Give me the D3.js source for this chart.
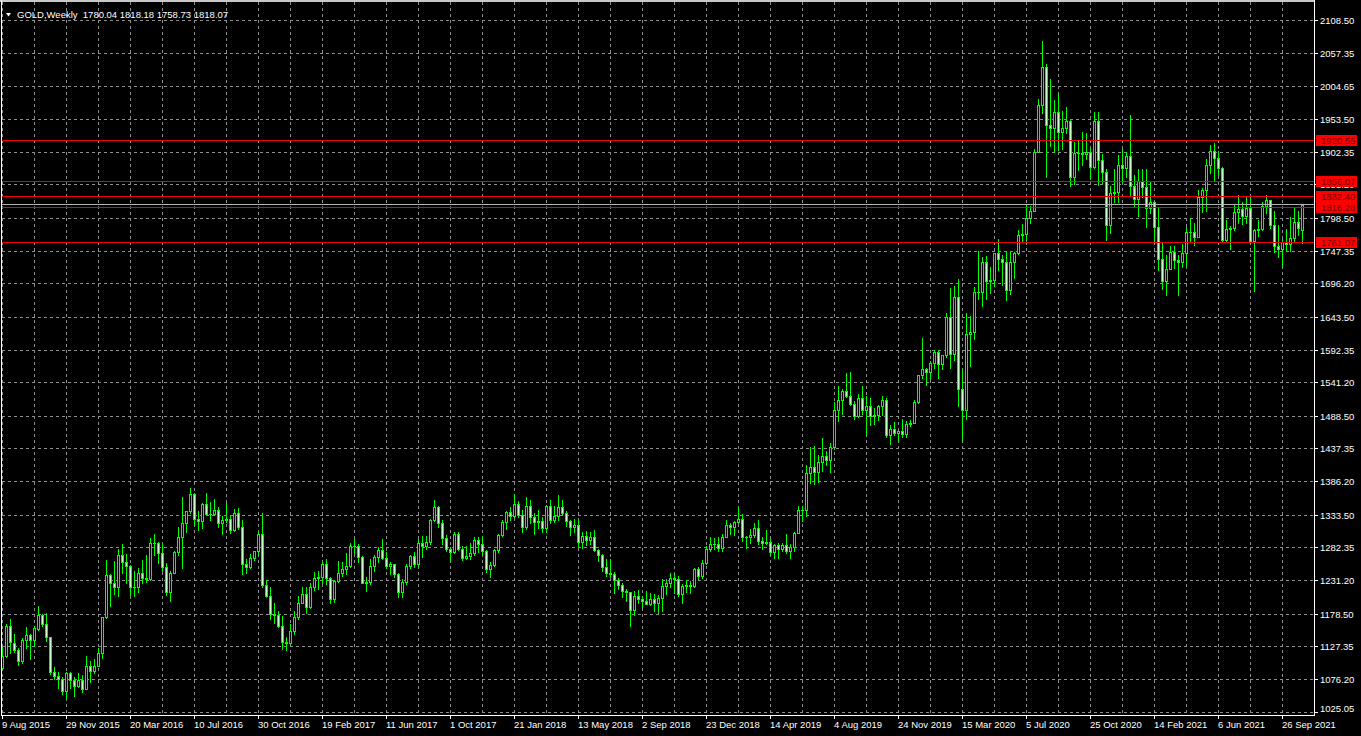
<!DOCTYPE html>
<html><head><meta charset="utf-8">
<script src="https://cdn.jsdelivr.net/npm/d3@7"></script>
<style>
html,body{margin:0;padding:0;background:#000;overflow:hidden}
svg{display:block}
text{font-family:"Liberation Sans",Arial,sans-serif;}
</style>
</head><body>
<script>
// ---------------- DATA ----------------
const chartTitle = "GOLD,Weekly";
const lastBarValues = ["1780.04", "1818.18", "1758.73", "1818.07"];

// Weekly bars, first bar = week of 9 Aug 2015, last bar = week of 31 Oct 2021
const opens = [
1094,1113,1160,1133,1122,1104,1137,1145,1137,1155,
1177,1163,1142,1088,1081,1076,1057,1086,1075,1065,1075,
1061,1097,1089,1097,1117,1173,1239,1227,1220,1270,
1259,1254,1220,1221,1243,1234,1233,1290,1290,1273,
1252,1213,1243,1275,1298,1321,1340,1366,1327,1323,
1350,1335,1335,1341,1321,1326,1327,1310,1337,1315,
1257,1251,1266,1276,1304,1224,1207,1178,1177,1160,
1134,1133,1151,1173,1196,1210,1189,1220,1234,1236,
1257,1234,1201,1229,1243,1249,1254,1285,1284,1268,
1227,1228,1254,1267,1279,1266,1254,1256,1241,1212,
1228,1254,1269,1257,1290,1285,1291,1325,1346,1320,
1297,1280,1275,1304,1280,1266,1269,1274,1294,1287,
1276,1248,1255,1278,1302,1322,1338,1332,1350,1333,
1315,1347,1330,1322,1323,1313,1347,1325,1332,1345,
1336,1323,1314,1318,1291,1301,1294,1298,1278,1270,
1252,1242,1241,1231,1223,1214,1212,1184,1206,1201,
1198,1194,1201,1196,1203,1222,1226,1234,1233,1209,
1222,1223,1222,1248,1238,1258,1280,1287,1288,1282,
1298,1318,1314,1322,1327,1298,1298,1302,1313,1292,
1290,1291,1275,1286,1280,1286,1277,1283,1305,1341,
1341,1399,1409,1400,1416,1426,1419,1440,1497,1513,
1527,1520,1507,1488,1517,1497,1504,1488,1490,1504,
1514,1459,1468,1462,1464,1460,1476,1478,1510,1552,
1562,1557,1571,1589,1570,1584,1643,1585,1674,1530,
1498,1617,1620,1683,1683,1729,1700,1702,1743,1734,
1730,1685,1730,1743,1771,1774,1799,1810,1902,1975,
2035,1944,1940,1964,1933,1940,1950,1862,1900,1900,
1899,1902,1879,1951,1889,1871,1788,1838,1839,1881,
1877,1895,1849,1828,1856,1847,1814,1824,1784,1734,
1699,1719,1745,1733,1729,1744,1777,1777,1769,1831,
1843,1881,1903,1892,1877,1764,1781,1783,1808,1812,
1801,1814,1763,1780,1781,1817,1827,1787,1754,1750,
1761,1757,1767,1792,1780.04];

const highs = [
1126,1162,1170,1147,1125,1141,1157,1146,1159,1191,
1178,1180,1142,1095,1088,1080,1088,1088,1080,1085,1082,
1112,1105,1107,1125,1174,1263,1240,1261,1280,1287,
1272,1255,1245,1250,1262,1270,1297,1303,1291,1287,
1258,1245,1277,1315,1362,1340,1375,1367,1340,1352,
1367,1353,1358,1346,1331,1352,1333,1343,1344,1325,
1264,1272,1277,1308,1337,1231,1220,1196,1182,1175,
1142,1162,1183,1207,1220,1220,1227,1244,1245,1259,
1264,1236,1231,1261,1259,1273,1289,1295,1288,1269,
1236,1264,1270,1283,1296,1275,1260,1257,1242,1233,
1256,1271,1275,1295,1300,1300,1327,1357,1348,1326,
1302,1283,1306,1306,1285,1284,1290,1298,1298,1300,
1278,1260,1280,1303,1326,1340,1345,1366,1355,1341,
1361,1356,1337,1341,1330,1349,1356,1347,1365,1356,
1340,1326,1327,1325,1306,1308,1306,1310,1280,1272,
1264,1265,1244,1235,1227,1218,1212,1214,1215,1207,
1214,1211,1209,1208,1233,1233,1243,1243,1237,1225,
1231,1229,1250,1251,1263,1284,1299,1297,1298,1303,
1326,1320,1323,1346,1334,1300,1311,1320,1325,1298,
1310,1295,1288,1289,1289,1303,1287,1306,1348,1348,
1411,1439,1442,1427,1453,1434,1446,1510,1535,1531,
1555,1557,1512,1523,1535,1519,1517,1500,1505,1519,
1517,1474,1479,1464,1484,1481,1482,1513,1553,1611,
1564,1575,1591,1592,1584,1649,1689,1692,1703,1560,
1649,1645,1690,1747,1738,1739,1722,1744,1765,1740,
1745,1745,1745,1779,1789,1818,1817,1907,1984,2075,
2040,2016,1983,1992,1966,1973,1953,1918,1921,1933,
1932,1910,1965,1965,1898,1875,1848,1875,1897,1906,
1901,1959,1865,1875,1875,1875,1855,1825,1815,1760,
1740,1755,1755,1740,1758,1785,1798,1790,1843,1845,
1890,1912,1916,1903,1878,1795,1786,1818,1834,1824,
1832,1832,1781,1795,1823,1834,1827,1809,1787,1765,
1781,1800,1814,1810,1818.18];

const lows = [
1093,1111,1117,1118,1098,1101,1125,1108,1128,1153,
1159,1136,1084,1076,1062,1052,1046,1062,1049,1064,1056,
1061,1072,1086,1096,1109,1172,1191,1209,1207,1242,
1226,1208,1207,1212,1227,1228,1231,1271,1258,1245,
1208,1199,1242,1271,1250,1306,1336,1319,1310,1313,
1334,1326,1333,1314,1303,1322,1305,1308,1311,1241,
1242,1250,1262,1271,1220,1205,1171,1164,1158,1124,
1122,1131,1147,1170,1195,1180,1188,1216,1218,1227,
1225,1195,1197,1228,1238,1241,1252,1273,1260,1226,
1214,1225,1246,1260,1265,1250,1241,1236,1205,1204,
1225,1250,1252,1252,1268,1280,1288,1323,1315,1288,
1276,1261,1274,1279,1262,1264,1264,1271,1275,1272,
1244,1236,1253,1275,1301,1311,1326,1330,1330,1307,
1311,1321,1303,1313,1306,1307,1321,1322,1325,1333,
1316,1302,1306,1284,1282,1286,1288,1276,1261,1246,
1238,1236,1211,1218,1204,1199,1160,1176,1195,1189,
1193,1192,1182,1180,1182,1210,1220,1211,1206,1196,
1213,1211,1220,1233,1235,1256,1277,1280,1276,1277,
1298,1304,1302,1320,1293,1281,1289,1298,1287,1280,
1288,1270,1266,1266,1277,1273,1266,1276,1305,1323,
1331,1384,1382,1385,1402,1411,1400,1437,1480,1492,
1518,1506,1484,1486,1491,1459,1474,1475,1482,1490,
1456,1445,1458,1450,1456,1456,1472,1477,1508,1547,
1536,1546,1563,1547,1562,1581,1563,1576,1504,1451,
1483,1567,1609,1672,1660,1672,1681,1692,1717,1694,
1670,1680,1704,1742,1760,1763,1791,1809,1901,1963,
1863,1911,1902,1905,1906,1931,1848,1851,1873,1882,
1890,1860,1877,1850,1853,1764,1775,1823,1823,1855,
1863,1835,1817,1802,1831,1785,1806,1760,1717,1687,
1677,1718,1720,1677,1721,1723,1760,1756,1768,1808,
1810,1869,1856,1866,1761,1761,1750,1779,1791,1789,
1791,1759,1684,1770,1779,1806,1782,1745,1738,1721,
1746,1746,1761,1771,1758.73];

const closes = [
1113,1159,1134,1121,1104,1137,1145,1137,1156,1177,
1163,1142,1088,1081,1076,1057,1086,1075,1065,1075,1061,
1097,1089,1097,1117,1173,1239,1227,1220,1270,1259,
1254,1220,1221,1243,1234,1233,1290,1290,1273,1252,
1213,1243,1275,1298,1321,1340,1366,1327,1323,1350,
1335,1335,1341,1321,1326,1327,1310,1337,1315,1257,
1251,1266,1276,1304,1224,1207,1178,1177,1160,1134,
1133,1151,1173,1196,1210,1189,1220,1234,1236,1257,
1234,1201,1229,1243,1249,1254,1285,1284,1268,1227,
1228,1254,1267,1279,1266,1254,1256,1241,1212,1228,
1254,1269,1257,1290,1285,1291,1325,1346,1320,1297,
1280,1275,1304,1280,1266,1269,1274,1294,1287,1276,
1248,1255,1278,1302,1322,1338,1332,1350,1333,1315,
1347,1330,1322,1323,1313,1347,1325,1332,1345,1336,
1323,1314,1318,1291,1301,1294,1298,1278,1270,1252,
1242,1241,1231,1223,1214,1212,1184,1206,1201,1198,
1194,1201,1196,1203,1222,1226,1234,1233,1209,1222,
1223,1222,1248,1238,1258,1280,1287,1288,1282,1298,
1318,1314,1322,1327,1298,1298,1302,1313,1292,1290,
1291,1275,1286,1280,1286,1277,1283,1305,1341,1341,
1399,1409,1400,1416,1426,1419,1440,1497,1513,1527,
1520,1507,1488,1517,1497,1504,1488,1490,1504,1514,
1459,1468,1462,1464,1460,1476,1478,1510,1552,1562,
1557,1571,1589,1570,1584,1643,1585,1674,1530,1498,
1617,1620,1683,1683,1729,1700,1702,1743,1734,1730,
1685,1730,1743,1771,1774,1799,1810,1902,1975,2035,
1944,1940,1964,1933,1940,1950,1862,1900,1900,1899,
1902,1879,1951,1889,1871,1788,1838,1839,1881,1877,
1895,1849,1828,1856,1847,1814,1824,1784,1734,1699,
1719,1745,1733,1729,1744,1777,1777,1769,1831,1843,
1881,1903,1892,1877,1764,1781,1783,1808,1812,1801,
1814,1763,1780,1781,1817,1827,1787,1754,1750,1761,
1757,1767,1792,1783,1818.07];

// Date labels, one every 16 weekly bars starting with bar 0
const dateLabels = ["9 Aug 2015","29 Nov 2015","20 Mar 2016","10 Jul 2016","30 Oct 2016",
  "19 Feb 2017","11 Jun 2017","1 Oct 2017","21 Jan 2018","13 May 2018","2 Sep 2018",
  "23 Dec 2018","14 Apr 2019","4 Aug 2019","24 Nov 2019","15 Mar 2020","5 Jul 2020",
  "25 Oct 2020","14 Feb 2021","6 Jun 2021","26 Sep 2021"];
const labelEvery = 16;
const gridEvery = 8;

const priceTicks = ["2108.50","2057.35","2004.65","1953.50","1902.35","1851.20","1798.50",
  "1747.35","1696.20","1643.50","1592.35","1541.20","1488.50","1437.35","1386.20",
  "1333.50","1282.35","1231.20","1178.50","1127.35","1076.20","1025.05"];

const levelLines = ["1920.55","1856.07","1832.40","1816.28","1761.07"];
const bidPrice = 1818.07;

// ---------------- DRAW ----------------
const W = 1361, H = 736;
const plotLeft = 1, plotRight = 1314, plotTop = 1, plotBottom = 715;
const n = opens.length;

const svg = d3.select("body").append("svg")
  .attr("width", W).attr("height", H)
  .attr("shape-rendering", "crispEdges");

svg.append("rect").attr("width", W).attr("height", H).attr("fill", "#000");

const x = d3.scaleLinear().domain([0, n - 1]).range([2, 2 + 4 * (n - 1)]);
const y = d3.scaleLinear().domain([1025.05, 2108.50]).range([711.7, 20]);
const py = v => Math.round(y(v));

const gridColor = "#8e8e8e";
// vertical grid
const gridIdx = d3.range(0, n, gridEvery);
svg.append("g").selectAll("line").data(gridIdx).join("line")
  .attr("x1", d => Math.round(x(d)) + 0.5).attr("x2", d => Math.round(x(d)) + 0.5)
  .attr("y1", plotTop + 1).attr("y2", plotBottom)
  .attr("stroke", gridColor).attr("stroke-width", 1).attr("stroke-dasharray", "3,3");
// horizontal grid
svg.append("g").selectAll("line").data(priceTicks).join("line")
  .attr("x1", plotLeft + 1).attr("x2", plotRight)
  .attr("y1", d => py(+d) + 0.5).attr("y2", d => py(+d) + 0.5)
  .attr("stroke", gridColor).attr("stroke-width", 1).attr("stroke-dasharray", "3,3");

// candles
const bars = d3.range(n).map(i => ({i, o: opens[i], h: highs[i], l: lows[i], c: closes[i]}));
const cg = svg.append("g");
bars.forEach(b => {
  const cx = Math.round(x(b.i));
  const hy = py(b.h), ly = py(b.l);
  cg.append("rect").attr("x", cx).attr("y", hy).attr("width", 1).attr("height", Math.max(1, ly - hy + 1)).attr("fill", "#00ff00");
  const top = py(Math.max(b.o, b.c)), bot = py(Math.min(b.o, b.c));
  cg.append("rect").attr("x", cx - 1).attr("y", top).attr("width", 3).attr("height", Math.max(1, bot - top + 1)).attr("fill", "#00ff00");
  if (bot - top >= 2) {
    cg.append("rect").attr("x", cx).attr("y", top + 1).attr("width", 1).attr("height", bot - top - 1)
      .attr("fill", b.c >= b.o ? "#000000" : "#c8ffc8");
  }
});

// horizontal level lines
svg.append("g").selectAll("line").data(levelLines).join("line")
  .attr("x1", plotLeft + 1).attr("x2", plotRight)
  .attr("y1", d => py(+d) + 0.5).attr("y2", d => py(+d) + 0.5)
  .attr("stroke", "#ee0000").attr("stroke-width", 1);
// bid line
svg.append("line")
  .attr("x1", plotLeft + 1).attr("x2", plotRight)
  .attr("y1", py(bidPrice) - 0.5).attr("y2", py(bidPrice) - 0.5)
  .attr("stroke", "#b4b4b4").attr("stroke-width", 1);

// frame
svg.append("rect").attr("x", 0).attr("y", 0).attr("width", plotRight + 1).attr("height", 2).attr("fill", "#c8c8c8");
svg.append("line").attr("x1", 1.5).attr("x2", 1.5).attr("y1", 0).attr("y2", plotBottom + 1).attr("stroke", "#fff");
svg.append("line").attr("x1", plotRight + 0.5).attr("x2", plotRight + 0.5).attr("y1", 0).attr("y2", plotBottom + 1).attr("stroke", "#fff");
svg.append("line").attr("x1", 1).attr("x2", plotRight + 1).attr("y1", plotBottom + 0.5).attr("y2", plotBottom + 0.5).attr("stroke", "#fff");

// time axis ticks and labels
const tickIdx = dateLabels.map((d, k) => k * labelEvery);
const tg = svg.append("g");
tg.selectAll("line").data(tickIdx).join("line")
  .attr("x1", d => Math.round(x(d)) + 0.5).attr("x2", d => Math.round(x(d)) + 0.5)
  .attr("y1", plotBottom).attr("y2", plotBottom + 4)
  .attr("stroke", "#fff");
tg.selectAll("text").data(dateLabels).join("text")
  .attr("x", (d, k) => Math.round(x(tickIdx[k])))
  .attr("y", 728)
  .attr("fill", "#fff").attr("font-size", "9.5px")
  .text(d => d);

// price axis ticks and labels
const pg = svg.append("g");
pg.selectAll("line").data(priceTicks).join("line")
  .attr("x1", plotRight + 1).attr("x2", plotRight + 4)
  .attr("y1", d => py(+d) + 0.5).attr("y2", d => py(+d) + 0.5)
  .attr("stroke", "#fff");
pg.selectAll("text").data(priceTicks).join("text")
  .attr("x", 1320)
  .attr("y", d => Math.min(py(+d), 708) + 3.5)
  .attr("fill", "#fff").attr("font-size", "9.5px")
  .text(d => d);

// level labels
const lg = svg.append("g");
levelLines.forEach(v => {
  const ly = py(+v);
  lg.append("rect").attr("x", 1316).attr("y", ly - 5).attr("width", 41).attr("height", 11).attr("fill", "#ff0000");
  lg.append("text").attr("x", 1321).attr("y", ly + 4).attr("fill", "#7a0000").attr("font-size", "9.5px").text(v);
});

// title
svg.append("path").attr("d", "M6,13 L11,13 L8.5,16.5 Z").attr("fill", "#fff").attr("shape-rendering", "auto");
svg.append("text").attr("x", 17).attr("y", 18).attr("fill", "#fff").attr("font-size", "9.5px")
  .style("white-space", "pre")
  .text(chartTitle + "  " + lastBarValues.join(" "));
</script>
</body></html>
